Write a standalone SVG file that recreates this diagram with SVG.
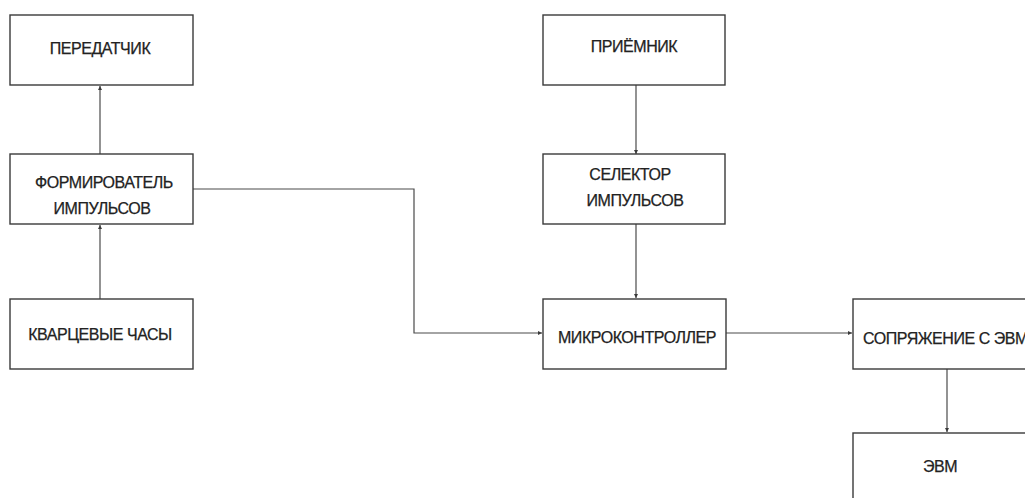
<svg xmlns="http://www.w3.org/2000/svg" width="1025" height="498" viewBox="0 0 1025 498">
<style>
.box{fill:#fff;stroke:#3a3a3a;stroke-width:1.4}
.lbl{font-family:"Liberation Sans",Arial,sans-serif;font-size:16px;letter-spacing:-0.45px;fill:#222;stroke:#222;stroke-width:0.25;text-anchor:middle}
.con{fill:none;stroke:#4a4a4a;stroke-width:1.2}
</style>
<defs>
<marker id="ah" viewBox="0 0 6 6" refX="6" refY="3" markerWidth="4" markerHeight="4" orient="auto" markerUnits="userSpaceOnUse">
<path d="M0,0 L6,3 L0,6 Z" fill="#3a3a3a"/>
</marker>
</defs>
<rect width="1025" height="498" fill="#fff"/>
<g id="connectors">
<path class="con" d="M100,154 V86" marker-end="url(#ah)"/>
<path class="con" d="M100,299 V225" marker-end="url(#ah)"/>
<path class="con" d="M193,189 H414 V333 H542" marker-end="url(#ah)"/>
<path class="con" d="M636,85 V154" marker-end="url(#ah)"/>
<path class="con" d="M636,224 V298" marker-end="url(#ah)"/>
<path class="con" d="M726,333 H852" marker-end="url(#ah)"/>
<path class="con" d="M947,368 V432" marker-end="url(#ah)"/>
</g>
<g id="n1"><rect class="box" x="10" y="15" width="183" height="70"/><text class="lbl" x="100" y="54">ПЕРЕДАТЧИК</text></g>
<g id="n2"><rect class="box" x="10" y="154" width="183" height="70"/><text class="lbl" x="104" y="188">ФОРМИРОВАТЕЛЬ</text><text class="lbl" x="102" y="214">ИМПУЛЬСОВ</text></g>
<g id="n3"><rect class="box" x="10" y="299" width="183" height="70"/><text class="lbl" x="100" y="340">КВАРЦЕВЫЕ ЧАСЫ</text></g>
<g id="n4"><rect class="box" x="543" y="15" width="182" height="70"/><text class="lbl" x="634" y="52">ПРИЁМНИК</text></g>
<g id="n5"><rect class="box" x="543" y="154" width="182" height="70"/><text class="lbl" x="630" y="180">СЕЛЕКТОР</text><text class="lbl" x="635" y="206">ИМПУЛЬСОВ</text></g>
<g id="n6"><rect class="box" x="543" y="299" width="183" height="70"/><text class="lbl" x="637" y="343">МИКРОКОНТРОЛЛЕР</text></g>
<g id="n7"><rect class="box" x="853" y="299" width="183" height="70"/><text class="lbl" x="863" y="344" style="text-anchor:start">СОПРЯЖЕНИЕ С ЭВМ</text></g>
<g id="n8"><rect class="box" x="853" y="433" width="183" height="80"/><text class="lbl" x="940" y="472">ЭВМ</text></g>
</svg>
